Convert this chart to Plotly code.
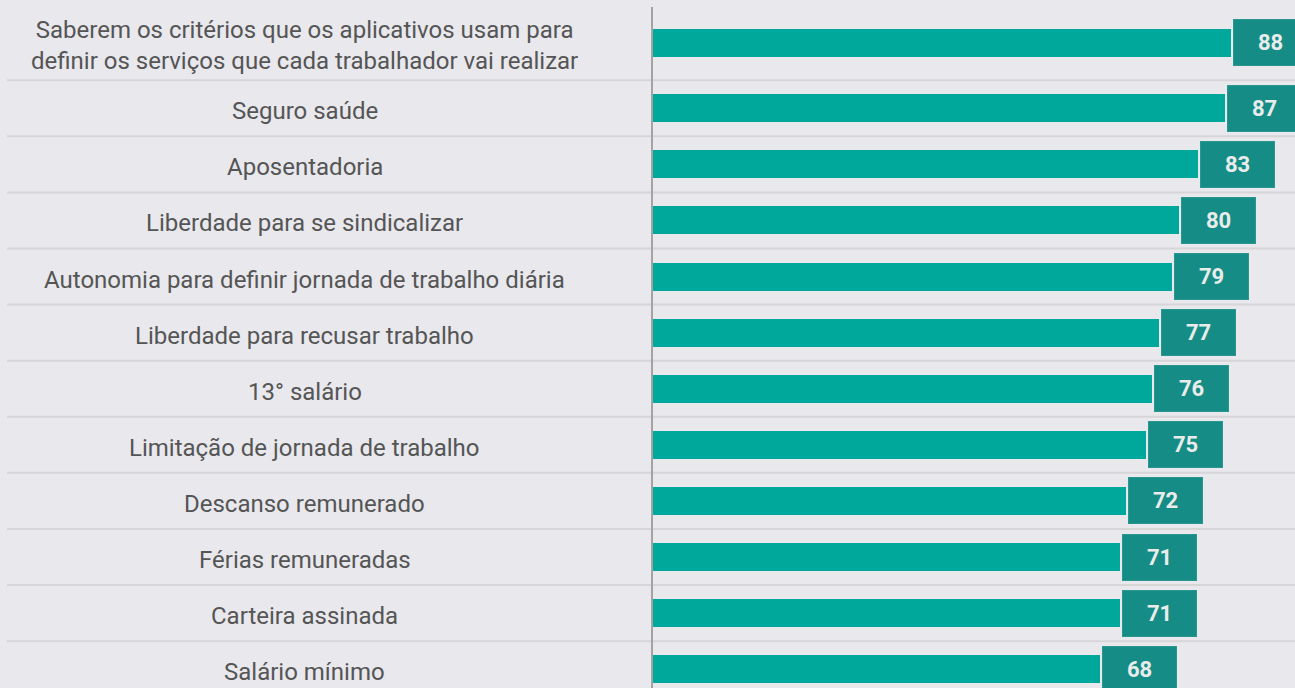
import plotly.graph_objects as go

categories = [
    "Saberem os critérios que os aplicativos usam para<br>definir os serviços que cada trabalhador vai realizar",
    "Seguro saúde",
    "Aposentadoria",
    "Liberdade para se sindicalizar",
    "Autonomia para definir jornada de trabalho diária",
    "Liberdade para recusar trabalho",
    "13° salário",
    "Limitação de jornada de trabalho",
    "Descanso remunerado",
    "Férias remuneradas",
    "Carteira assinada",
    "Salário mínimo",
]
values = [88, 87, 83, 80, 79, 77, 76, 75, 72, 71, 71, 68]

bg = "#e8e8ed"
bar_color = "#00a79b"
box_color = "#168c87"

# the first row has a two-line label, so its bar sits a bit higher
rows = [i - 0.17 if i == 0 else i for i in range(len(categories))]

fig = go.Figure()
fig.add_trace(go.Bar(
    x=values, y=rows, orientation="h", width=0.5,
    marker=dict(color=bar_color, line=dict(width=0)),
    hoverinfo="skip",
))

annotations = []
shapes = []
for i, (cat, v, r) in enumerate(zip(categories, values, rows)):
    # category label, centred in the left column
    annotations.append(dict(
        x=0.2355, xref="paper", y=r, yref="y", text=cat, yshift=-3,
        xanchor="center", yanchor="middle", showarrow=False,
        font=dict(family="Roboto", size=24, color="#555555"),
    ))
    # value box
    annotations.append(dict(
        x=v, xref="x", y=r, yref="y", text="<b>%d</b>" % v,
        xanchor="left", yanchor="middle", xshift=2, showarrow=False,
        width=71, height=43, borderpad=1, borderwidth=1,
        bgcolor=box_color, bordercolor="#2a9690",
        font=dict(family="Roboto", size=22, color="#e9ecea"),
    ))
    if i < len(categories) - 1:
        shapes.append(dict(
            type="line", xref="paper", yref="y",
            x0=7 / 1295, x1=1, y0=i + 0.5, y1=i + 0.5,
            line=dict(color="#d6d6d9", width=2), layer="below",
        ))

fig.update_layout(
    width=1295, height=688,
    paper_bgcolor=bg, plot_bgcolor=bg,
    margin=dict(l=0, r=0, t=0, b=0),
    showlegend=False,
    bargap=0,
    xaxis=dict(
        domain=[653 / 1295, 1], range=[0, 97.7],
        showgrid=False, zeroline=False, showticklabels=False,
        showline=False, fixedrange=True,
    ),
    yaxis=dict(
        domain=[0, 681 / 688], range=[11.335, -0.805],
        showgrid=False, zeroline=False, showticklabels=False,
        showline=True, linecolor="#a3a3a3", linewidth=2, fixedrange=True,
    ),
    annotations=annotations,
    shapes=shapes,
)

fig.write_html(
    "out.html",
    config={"displayModeBar": False},
    post_script="document.body.style.margin='0';document.body.style.overflow='hidden';",
)
